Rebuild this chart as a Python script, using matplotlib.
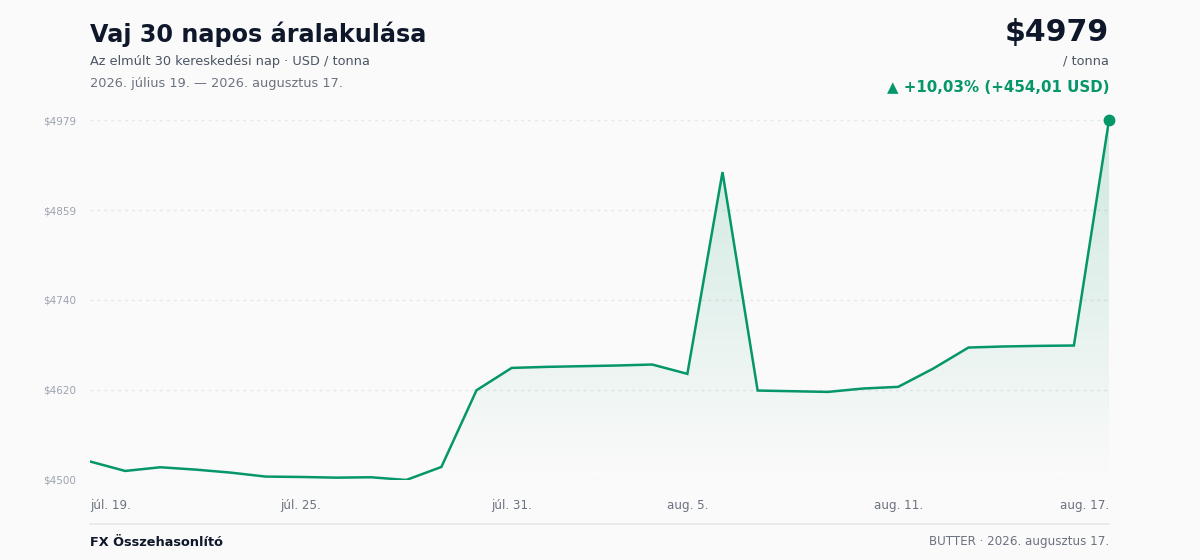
import matplotlib.pyplot as plt
import matplotlib.colors as mcolors
import numpy as np
import pandas as pd

plt.rcParams['font.family'] = ['DejaVu Sans']

# vaj ára, USD / tonna, 30 kereskedési nap
dates = pd.date_range("2026-07-19", "2026-08-17", freq="D")
prices = [4525.00, 4512.4, 4517.3, 4514.2, 4510.2, 4504.9, 4504.4, 4503.5, 4504.0, 4500.4,
          4517.7, 4619.7, 4649.4, 4650.8, 4651.7, 4652.6, 4653.9, 4641.5, 4909.8, 4619.3,
          4618.4, 4617.5, 4622.0, 4624.2, 4648.6, 4676.5, 4677.9, 4678.7, 4679.2, 4979.01]
tick_dates = ["2026-07-19", "2026-07-25", "2026-07-31", "2026-08-05", "2026-08-11", "2026-08-17"]
months_hu = {7: "júl.", 8: "aug."}

GREEN = "#059669"
BG = "#fafafa"

prices = np.array(prices)
x = np.arange(len(prices))
ymin, ymax = prices.min(), prices.max()

fig = plt.figure(figsize=(12, 5.6), dpi=100, facecolor=BG)
ax = fig.add_axes([0.075, 0.1429, 0.8492, 0.6428])
ax.set_facecolor(BG)

# gradient under the line
poly = ax.fill_between(x, prices, ymin, color="none")
grad = np.linspace(0, 1, 256)
rgba = np.zeros((256, 1, 4))
rgba[..., :3] = mcolors.to_rgb(GREEN)
rgba[:, 0, 3] = 0.18 * grad
img = ax.imshow(rgba, extent=[x[0], x[-1], ymin, ymax], origin="lower",
                aspect="auto", zorder=1)
img.set_clip_path(poly.get_paths()[0], transform=ax.transData)

ax.plot(x, prices, color=GREEN, lw=1.8, zorder=3, solid_joinstyle="miter")
ax.plot(x[-1], prices[-1], "o", color=GREEN, ms=7.5, zorder=4, clip_on=False)

ax.set_xlim(x[0], x[-1])
ax.set_ylim(ymin, ymax)

yt = np.linspace(ymin, ymax, 5)
ax.set_yticks(yt)
ax.set_yticklabels([f"${v:.0f}" for v in yt], fontsize=7.5, color="#9ca3af")
ax.grid(axis="y", color="#e5e7eb", lw=1, ls=(0, (2, 3)))
ax.set_axisbelow(True)

pos = [dates.get_loc(pd.Timestamp(d)) for d in tick_dates]
ax.set_xticks(pos)
labels = ax.set_xticklabels([f"{months_hu[pd.Timestamp(d).month]} {pd.Timestamp(d).day}." for d in tick_dates],
                            fontsize=8.6, color="#6b7280")
labels[0].set_ha("left")
labels[-1].set_ha("right")
ax.tick_params(axis="both", length=0)
ax.tick_params(axis="y", pad=10)
ax.tick_params(axis="x", pad=14)
for s in ax.spines.values():
    s.set_visible(False)

# header
change = prices[-1] - prices[0]
pct = change / prices[0] * 100
fig.text(0.075, 1 - 34 / 560, "Vaj 30 napos áralakulása", fontsize=17.2, fontweight="bold",
         color="#0f172a", va="center", ha="left")
fig.text(0.075, 1 - 61 / 560, "Az elmúlt 30 kereskedési nap · USD / tonna", fontsize=9.25,
         color="#4b5563", va="center", ha="left")
fig.text(0.075, 1 - 83 / 560, "2026. július 19. — 2026. augusztus 17.", fontsize=9.25,
         color="#6b7280", va="center", ha="left")
fig.text(0.9242, 1 - 32 / 560, f"${prices[-1]:.0f}", fontsize=21.6, fontweight="bold",
         color="#0f172a", va="center", ha="right")
fig.text(0.9242, 1 - 61 / 560, "/ tonna", fontsize=9.25, color="#4b5563", va="center", ha="right")
fig.text(0.9242, 1 - 87 / 560,
         f"▲ +{pct:.2f}% (+{change:.2f} USD)".replace(".", ","),
         fontsize=10.85, fontweight="bold", color=GREEN, va="center", ha="right")

# footer
fig.add_artist(plt.Line2D([0.075, 0.9242], [1 - 524 / 560] * 2, color="#e5e7eb", lw=1.2))
fig.text(0.075, 1 - 542 / 560, "FX Összehasonlító", fontsize=9.3, fontweight="bold",
         color="#0f172a", va="center", ha="left")
fig.text(0.9242, 1 - 542 / 560, "BUTTER · 2026. augusztus 17.", fontsize=8.6,
         color="#6b7280", va="center", ha="right")

fig.savefig("out.png", dpi=100, facecolor=BG)
